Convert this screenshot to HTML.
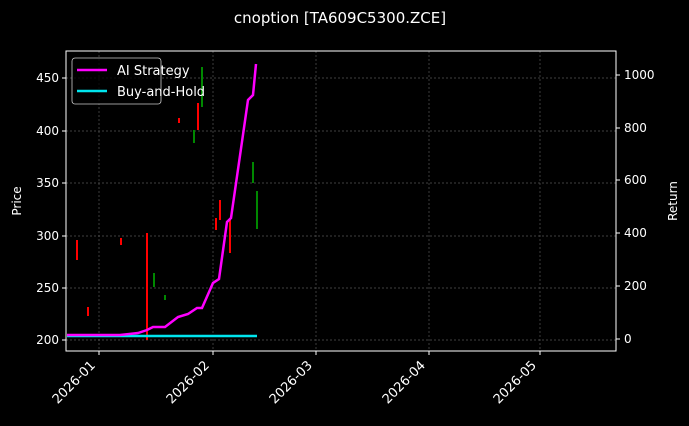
<!DOCTYPE html>
<html><head><style>body{margin:0;background:#000}</style></head><body>
<svg width="689" height="421" xmlns="http://www.w3.org/2000/svg" font-family="DejaVu Sans, Liberation Sans, sans-serif" fill="#fff">
<rect width="689" height="421" fill="#000"/>
<text x="340" y="23" font-size="15" text-anchor="middle">cnoption [TA609C5300.ZCE]</text>
<g stroke="#555" stroke-width="0.7" stroke-dasharray="2,2">
<line x1="99" y1="51" x2="99" y2="351"/><line x1="213" y1="51" x2="213" y2="351"/><line x1="316" y1="51" x2="316" y2="351"/><line x1="429" y1="51" x2="429" y2="351"/><line x1="540" y1="51" x2="540" y2="351"/>
<line x1="66" y1="340" x2="616" y2="340"/><line x1="66" y1="288" x2="616" y2="288"/><line x1="66" y1="236" x2="616" y2="236"/><line x1="66" y1="183" x2="616" y2="183"/><line x1="66" y1="131" x2="616" y2="131"/><line x1="66" y1="78" x2="616" y2="78"/>
</g>
<g stroke-width="2">
<line x1="77" y1="240" x2="77" y2="260" stroke="#f00"/>
<line x1="88" y1="307" x2="88" y2="316" stroke="#f00"/>
<line x1="121" y1="238" x2="121" y2="245" stroke="#f00"/>
<line x1="147" y1="233" x2="147" y2="340" stroke="#f00"/>
<line x1="154" y1="273" x2="154" y2="287" stroke="#080"/>
<line x1="165" y1="295" x2="165" y2="300" stroke="#080"/>
<line x1="179" y1="118" x2="179" y2="123" stroke="#f00"/>
<line x1="194" y1="130" x2="194" y2="143" stroke="#080"/>
<line x1="198" y1="103" x2="198" y2="130" stroke="#f00"/>
<line x1="202" y1="67" x2="202" y2="107" stroke="#080"/>
<line x1="216" y1="218" x2="216" y2="230" stroke="#f00"/>
<line x1="220" y1="200" x2="220" y2="220" stroke="#f00"/>
<line x1="230" y1="220" x2="230" y2="253" stroke="#f00"/>
<line x1="253" y1="162" x2="253" y2="183" stroke="#080"/>
<line x1="257" y1="191" x2="257" y2="229" stroke="#080"/>
</g>
<line x1="67" y1="336" x2="257" y2="336" stroke="#00e5ee" stroke-width="2.5"/>
<polyline fill="none" stroke="#f0f" stroke-width="2.5" points="67,335 120,335 138,333 147,330 153,327 165,327 178,317 188,314 197,308 202,308 213,283 219,279 227,222 231,218 248,100 253,95 256,64"/>
<rect x="66" y="51" width="550" height="300" fill="none" stroke="#fff" stroke-width="1"/>
<g stroke="#fff"><line x1="99" y1="351" x2="99" y2="355"/><line x1="213" y1="351" x2="213" y2="355"/><line x1="316" y1="351" x2="316" y2="355"/><line x1="429" y1="351" x2="429" y2="355"/><line x1="540" y1="351" x2="540" y2="355"/>
<line x1="62" y1="340" x2="66" y2="340"/><line x1="62" y1="288" x2="66" y2="288"/><line x1="62" y1="236" x2="66" y2="236"/><line x1="62" y1="183" x2="66" y2="183"/><line x1="62" y1="131" x2="66" y2="131"/><line x1="62" y1="78" x2="66" y2="78"/>
<line x1="616" y1="339" x2="620" y2="339"/><line x1="616" y1="286" x2="620" y2="286"/><line x1="616" y1="233" x2="620" y2="233"/><line x1="616" y1="180" x2="620" y2="180"/><line x1="616" y1="128" x2="620" y2="128"/><line x1="616" y1="75" x2="620" y2="75"/></g>
<g font-size="12" text-anchor="end"><text x="59" y="344">200</text><text x="59" y="292">250</text><text x="59" y="240">300</text><text x="59" y="187">350</text><text x="59" y="135">400</text><text x="59" y="82">450</text></g>
<g font-size="12"><text x="624" y="343">0</text><text x="624" y="290">200</text><text x="624" y="237">400</text><text x="624" y="184">600</text><text x="624" y="132">800</text><text x="624" y="79">1000</text></g>
<g font-size="13" text-anchor="end">
<text transform="translate(96,366) rotate(-45)">2026-01</text><text transform="translate(210,366) rotate(-45)">2026-02</text><text transform="translate(313,366) rotate(-45)">2026-03</text><text transform="translate(426,366) rotate(-45)">2026-04</text><text transform="translate(537,366) rotate(-45)">2026-05</text></g>
<text transform="translate(21,201) rotate(-90)" font-size="12" text-anchor="middle">Price</text>
<text transform="translate(677,201) rotate(-90)" font-size="12" text-anchor="middle">Return</text>
<rect x="72" y="58" width="89" height="46" rx="3" fill="#000" fill-opacity="0.8" stroke="#ccc" stroke-width="0.8"/>
<line x1="77" y1="70" x2="107" y2="70" stroke="#f0f" stroke-width="2.5"/>
<line x1="77" y1="91" x2="107" y2="91" stroke="#00e5ee" stroke-width="2.5"/>
<text x="117" y="75" font-size="13">AI Strategy</text>
<text x="117" y="96" font-size="13">Buy-and-Hold</text>
</svg>
</body></html>
